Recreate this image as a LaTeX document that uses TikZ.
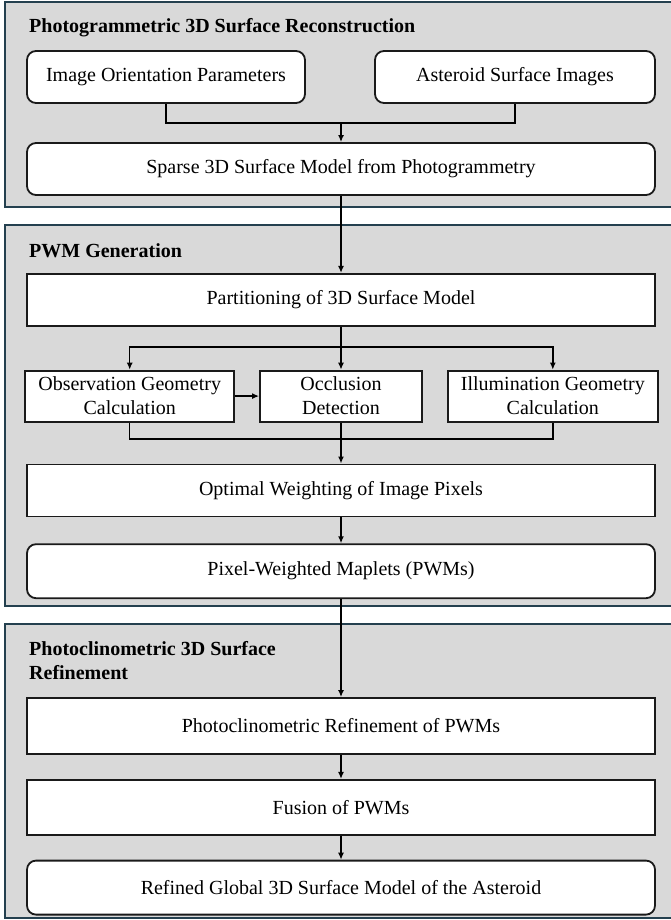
\documentclass[tikz,border=0pt]{standalone}
\usepackage{fontspec}
\setmainfont{Liberation Serif}
\usepackage{xcolor}
\usetikzlibrary{arrows.meta,positioning}

\definecolor{panelfill}{HTML}{D9D9D9}
\definecolor{panelline}{HTML}{24404F}
\definecolor{boxline}{HTML}{1A1A1A}

\begin{document}
\begin{tikzpicture}[
  x=1pt, y=-1pt,
  panel/.style={draw=panelline,line width=1.6pt,fill=panelfill},
  ptitle/.style={anchor=base west,inner sep=0pt,font=\fontsize{20}{24}\selectfont\bfseries,align=left},
  rbox/.style ={rectangle,rounded corners=9pt,draw=boxline,line width=1.8pt,fill=white,
               align=center,font=\fontsize{20}{24}\selectfont,inner sep=0pt,minimum height=52pt},
  sbox/.style ={rectangle,draw=boxline,line width=1.8pt,fill=white,
               align=center,font=\fontsize{20}{24}\selectfont,inner sep=0pt,minimum height=52pt},
  line/.style={line width=1.4pt,black},
  arr/.style={-{Latex[length=7pt,width=6pt]},line width=1.4pt,black},
]
\useasboundingbox (0,0) rectangle (670,920);

%% ─── panels ──────────────────────────────────────────────────────────────────
\draw[panel] (5,2)   rectangle (680,207);
\draw[panel] (5,225) rectangle (680,606);
\draw[panel] (5,624) rectangle (680,918);

\node[ptitle] (t1) at (29,33)  {Photogrammetric 3D Surface Reconstruction};
\node[ptitle] (t2) at (29,257) {PWM Generation};
\node[ptitle] (t3) at (29,679) {Photoclinometric 3D Surface\\Refinement};

%% ─── Photogrammetric reconstruction ──────────────────────────────────────────
\node[rbox, minimum width=278pt] (iop) at (166,77) {Image Orientation Parameters};
\node[rbox, minimum width=280pt] (asi) at (515,77) {Asteroid Surface Images};
\node[rbox, minimum width=628pt] (sparse) at (341,169) {Sparse 3D Surface Model from Photogrammetry};

\coordinate (j1) at (341,123);
\draw[line] (iop.south) |- (j1) -| (asi.south);
\draw[arr] (j1) -- (sparse.north);

%% ─── PWM generation ──────────────────────────────────────────────────────────
\node[sbox, minimum width=628pt, below=77pt of sparse] (part) {Partitioning of 3D Surface Model};
\node[sbox, minimum width=162pt, minimum height=51pt, below=43pt of part] (occ) {Occlusion\\Detection};
\node[sbox, minimum width=209pt, minimum height=51pt, left=24pt of occ]   (obs) {Observation Geometry\\Calculation};
\node[sbox, minimum width=210pt, minimum height=51pt, right=24pt of occ]  (ill) {Illumination Geometry\\Calculation};
\node[sbox, minimum width=628pt, below=41pt of occ] (opt) {Optimal Weighting of Image Pixels};
\node[rbox, minimum width=628pt, minimum height=54pt, below=26pt of opt] (pwm) {Pixel-Weighted Maplets (PWMs)};

\draw[arr] (sparse) -- (part);
\coordinate (j2) at (341,347);
\draw[line] (part) -- (j2);
\draw[arr] (j2) -| (obs.north);
\draw[arr] (j2) -| (ill.north);
\draw[arr] (j2) -- (occ);
\draw[arr] (obs) -- (occ);

\coordinate (j3) at (341,439);
\draw[line] (obs.south) |- (j3) -| (ill.south);
\draw[arr] (occ) -- (opt);
\draw[arr] (opt) -- (pwm);

%% ─── Photoclinometric refinement ─────────────────────────────────────────────
\node[sbox, minimum width=628pt, minimum height=56pt, below=98pt of pwm] (pcr) {Photoclinometric Refinement of PWMs};
\node[sbox, minimum width=628pt, minimum height=55pt, below=24pt of pcr] (fus) {Fusion of PWMs};
\node[rbox, minimum width=628pt, minimum height=54pt, below=24pt of fus] (ref) {Refined Global 3D Surface Model of the Asteroid};

\draw[arr] (pwm) -- (pcr);
\draw[arr] (pcr) -- (fus);
\draw[arr] (fus) -- (ref);

\end{tikzpicture}
\end{document}
